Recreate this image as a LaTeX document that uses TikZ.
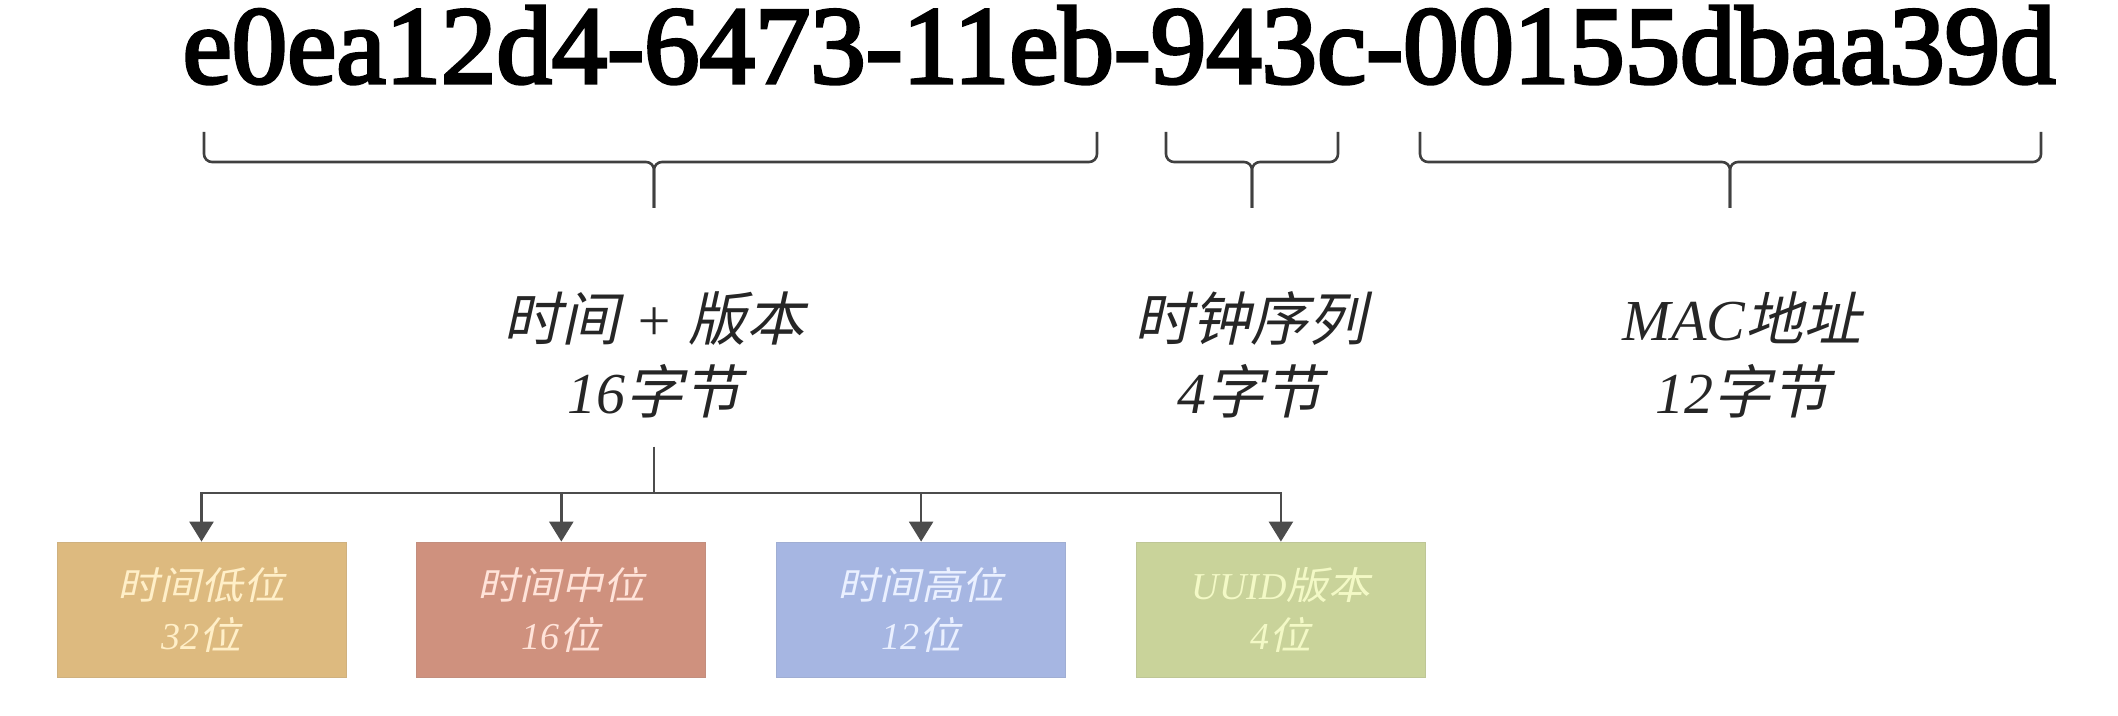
\documentclass[tikz,border=0pt]{standalone}
\usepackage{fontspec}
\setmainfont{Liberation Serif}
\newfontfamily\uuidfont[FakeBold=3]{Liberation Serif}
\newfontfamily\cjk[FakeSlant=0.22]{Noto Sans CJK SC}
\newfontfamily\cjkbox[FakeSlant=0.22,FakeStretch=1.1]{Noto Sans CJK SC}
\newcommand\zh[1]{{\cjk\upshape #1}}
\newcommand\zhb[1]{{\cjkbox\upshape #1}}
\usetikzlibrary{arrows.meta,positioning}
\definecolor{lowc}{HTML}{DDBA7F}
\definecolor{lowt}{HTML}{FFEFC8}
\definecolor{midc}{HTML}{CF917E}
\definecolor{midt}{HTML}{FFE3D9}
\definecolor{highc}{HTML}{A6B6E2}
\definecolor{hight}{HTML}{EAF0FF}
\definecolor{verc}{HTML}{C9D39A}
\definecolor{vert}{HTML}{F3F9C6}

\begin{document}
\begin{tikzpicture}[x=0.5pt,y=-0.5pt,node distance=35pt,>={Triangle[length=10pt,width=12pt]},
  part/.style={align=center,inner sep=0pt,text=black!85,font=\fontsize{29}{36.5}\selectfont\itshape},
  field/.style={minimum width=144.5pt,minimum height=67.5pt,inner sep=0pt,align=center,font=\fontsize{19}{25}\selectfont\itshape},
  bracket/.style={line width=1.3pt,draw=black!75,rounded corners=4pt},
  conn/.style={line width=1.3pt,draw=black!70}]
\useasboundingbox (0,0) rectangle (2118,716);
\node[anchor=base,inner sep=0pt,font=\fontsize{55.4}{60}\selectfont\uuidfont] (uuid) at (1119,83) {e0ea12d4-6473-11eb-943c-00155dbaa39d};
% braces under the three groups
\foreach \l/\m/\r in {204/654/1097,1166/1252/1338,1420/1730/2041}{
  \draw[bracket] (\l,132) -- (\l,162) -- (\m,162) -- (\m,208);
  \draw[bracket] (\r,132) -- (\r,162) -- (\m,162) -- (\m,208);
}
\node[part] (ltime) at (654,355) {\zh{时间} + \zh{版本}\\16\zh{字节}};
\node[part] (lclock) at (1250,355) {\zh{时钟序列}\\4\zh{字节}};
\node[part] (lmac) at (1742,355) {MAC\zh{地址}\\12\zh{字节}};
% the four fields of time + version
\node[field,fill=lowc,draw=lowc!85!gray,text=lowt] (low) at (201.5,609.5) {\zhb{时间低位}\\32\zhb{位}};
\node[field,fill=midc,draw=midc!85!gray,text=midt,right=of low] (mid) {\zhb{时间中位}\\16\zhb{位}};
\node[field,fill=highc,draw=highc!85!gray,text=hight,right=of mid] (high) {\zhb{时间高位}\\12\zhb{位}};
\node[field,fill=verc,draw=verc!85!gray,text=vert,right=of high] (ver) {UUID\zhb{版本}\\4\zhb{位}};
\coordinate[below=14pt of ltime] (stem);
\coordinate (fork) at (654,493);
\draw[conn] (stem) -- (fork);
\foreach \b in {low,mid,high,ver}
  \draw[conn,->] (fork) -| (\b);
\end{tikzpicture}
\end{document}
